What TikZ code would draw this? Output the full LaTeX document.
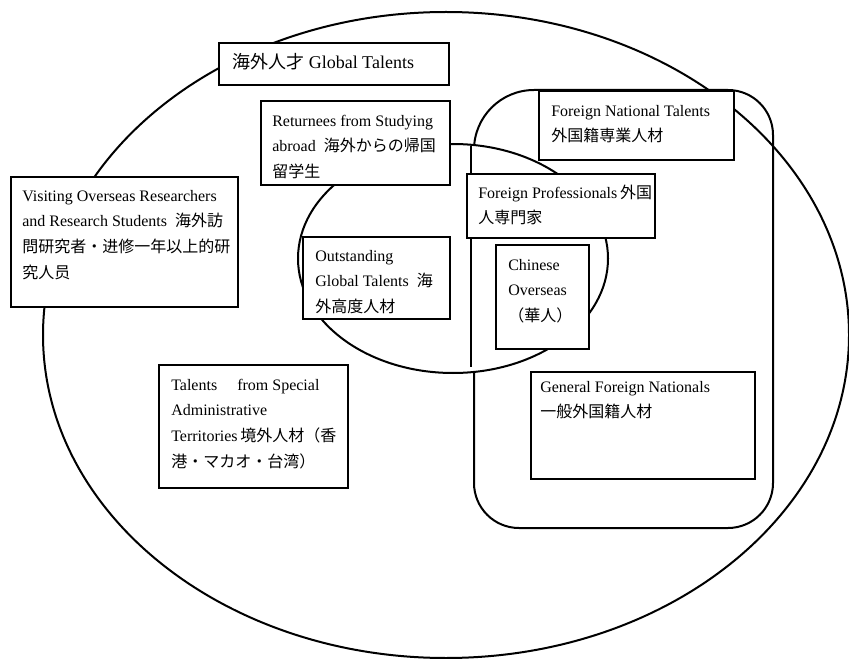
\documentclass[tikz,border=0pt]{standalone}
\usepackage{fontspec}
\setmainfont{Liberation Serif}
\newfontfamily\cjk{Noto Sans CJK JP}
\usetikzlibrary{shapes.geometric}
\tikzset{
  region/.style={draw, line width=1.5pt, inner sep=0pt, outer sep=0pt},
  boxnode/.style={draw, line width=0.9pt, fill=white, inner sep=0pt, outer sep=0pt, anchor=north west},
  txt/.style={anchor=north west, inner sep=0pt, align=left, font=\fontsize{12pt}{19.2pt}\selectfont},
}
\newcommand\fl{\rule{0pt}{13pt}}
\begin{document}
\begin{tikzpicture}[x=0.75pt, y=-0.75pt]
\useasboundingbox (0,0) rectangle (849,659);
% regions
\node[region, ellipse, minimum width=604.5pt, minimum height=484.5pt] (all) at (446,335) {};
\draw[line width=1.5pt] (474,483) -- (474,150) arc[start angle=180, end angle=270, radius=60]
  -- (728,90) arc[start angle=270, end angle=360, radius=45]
  -- (773,483) arc[start angle=0, end angle=90, radius=45]
  -- (519,528) arc[start angle=90, end angle=180, radius=45] -- cycle;
\node[region, ellipse, fill=white, minimum width=232.5pt, minimum height=171.75pt] (outs) at (453,258.5) {};
\coordinate (vtop) at (471,146);
\coordinate (vbot) at (471,367);
\draw[line width=1.2pt] (vtop) -- (vbot);
% boxes
\node[boxnode, minimum width=172.5pt, minimum height=31.5pt] (glob) at (219,43) {};
\node[boxnode, minimum width=141.75pt, minimum height=63pt] (ret) at (261,101) {};
\node[boxnode, minimum width=170.25pt, minimum height=97.5pt] (vis) at (11,177) {};
\node[boxnode, minimum width=110.25pt, minimum height=61.5pt] (out) at (303,237) {};
\node[boxnode, minimum width=141pt, minimum height=48pt] (fprof) at (467,174) {};
\node[boxnode, minimum width=146.25pt, minimum height=51.75pt] (fnat) at (539,91) {};
\node[boxnode, minimum width=69.75pt, minimum height=78pt] (chin) at (496,245) {};
\node[boxnode, minimum width=141.75pt, minimum height=92.25pt] (spec) at (159,365) {};
\node[boxnode, minimum width=168pt, minimum height=80.25pt] (gen) at (531,372) {};
% texts
\node[anchor=base west, inner sep=0pt, font=\fontsize{13.5pt}{16pt}\selectfont] (tglob) at (232,69) {{\cjk 海外人才} Global Talents};
\node[txt] (tret) at (272,108.7) {\fl Returnees from Studying\\abroad\ \ {\cjk 海外からの帰国}\\{\cjk 留学生}};
\node[txt] (tvis) at (22,183.7) {\fl Visiting Overseas Researchers\\and Research Students\ \ {\cjk 海外訪}\\{\cjk 問研究者・进修一年以上的研}\\{\cjk 究人员}};
\node[txt] (tout) at (315,243.7) {\fl Outstanding\\Global Talents\ \ {\cjk 海}\\{\cjk 外高度人材}};
\node[txt] (tfprof) at (478,180.7) {\fl Foreign Professionals\,{\cjk 外国}\\{\cjk 人専門家}};
\node[txt] (tfnat) at (551,98.7) {\fl Foreign National Talents\\{\cjk 外国籍専業人材}};
\node[txt] (tchin) at (508,252.7) {\fl Chinese\\Overseas\\{\cjk （華人）}};
\node[txt] (tspec) at (171,372.7) {\fl Talents\hspace{15pt}from Special\\Administrative\\Territories\,{\cjk 境外人材（香}\\{\cjk 港・マカオ・台湾）}};
\node[txt] (tgen) at (540,374.7) {\fl General Foreign Nationals\\{\cjk 一般外国籍人材}};
\end{tikzpicture}
\end{document}
